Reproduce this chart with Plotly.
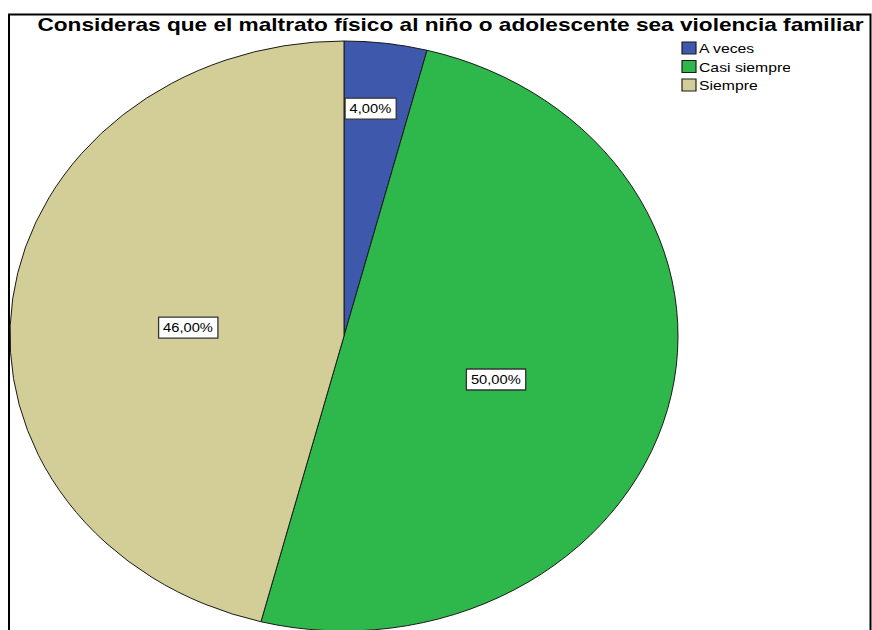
import json
import plotly.graph_objects as go

categories = ["A veces", "Casi siempre", "Siempre"]
percent_values = [4.0, 50.0, 46.0]
slice_colors = ["#3E58AC", "#2EB84B", "#D3CE98"]
title_text = "Consideras que el maltrato físico al niño o adolescente sea violencia familiar"

W, H = 872, 640   # drawn a little taller than the 630px window so the pie runs past the bottom edge
FONT = "Liberation Sans, Arial, sans-serif"

fig = go.Figure(
    go.Pie(
        labels=categories,
        values=percent_values,
        sort=False,
        direction="clockwise",
        rotation=0,
        marker=dict(colors=slice_colors, line=dict(color="#1a1a1a", width=1)),
        texttemplate="%{percent:.2%}",
        textposition="inside",
        insidetextorientation="horizontal",
        textfont=dict(family=FONT, size=13, color="#000000"),
        hoverinfo="label+percent",
        domain=dict(x=[44 / W, 644 / W], y=[1 - 631 / H, 1 - 41 / H]),
    )
)

fig.update_layout(
    width=W,
    height=H,
    margin=dict(l=0, r=0, t=0, b=0),
    paper_bgcolor="#FFFFFF",
    plot_bgcolor="#FFFFFF",
    separators=",.",
    showlegend=True,
    legend=dict(
        x=669 / W, y=1 - 33 / H, xanchor="left", yanchor="top",
        font=dict(family=FONT, size=13, color="#000000"),
        bgcolor="rgba(0,0,0,0)",
        tracegroupgap=0,
        itemwidth=30,
    ),
    annotations=[
        dict(
            text="<b>" + title_text + "</b>", xref="paper", yref="paper",
            x=37 / W, y=1 - 25 / H, xanchor="left", yanchor="middle",
            showarrow=False,
            font=dict(family=FONT, size=18, color="#000000"),
        )
    ],
    shapes=[
        dict(type="rect", xref="paper", yref="paper",
             x0=9 / W, x1=870.5 / W, y0=-0.05, y1=1 - 14.5 / H,
             line=dict(color="#000000", width=2), fillcolor="rgba(0,0,0,0)", layer="below")
    ],
)

post = r"""
document.documentElement.style.overflow = 'hidden';
document.body.style.margin = '0';
document.body.style.padding = '0';
document.body.style.overflow = 'hidden';
var gd = document.getElementById('{plot_id}');
var VALS = __VALS__;
function place(el, newLeft, s, dy) {
  var T = el.getAttribute('data-ot');
  if (T === null) { T = el.getAttribute('transform') || ''; el.setAttribute('data-ot', T); }
  if (T) el.setAttribute('transform', T); else el.removeAttribute('transform');
  var sv = el.ownerSVGElement;
  var sr = sv.getBoundingClientRect();
  var r = el.getBoundingClientRect();
  var L0 = r.left - sr.left;
  var pm = el.parentNode.getCTM();
  var offX = pm ? pm.e : 0, offY = pm ? pm.f : 0;
  var p0 = L0 - offX;
  el.setAttribute('transform', 'translate(' + (newLeft - offX) + ',' + (dy || 0) + ') scale(' + s + ',1) translate(' + (-p0) + ',0) ' + T);
  return {left: L0, width: r.width, top: r.top - sr.top, height: r.height, offX: offX, offY: offY};
}
function measure(el) {
  var T = el.getAttribute('data-ot');
  if (T !== null) { if (T) el.setAttribute('transform', T); else el.removeAttribute('transform'); }
  var sr = el.ownerSVGElement.getBoundingClientRect();
  var r = el.getBoundingClientRect();
  return {left: r.left - sr.left, width: r.width, top: r.top - sr.top, height: r.height};
}
function fixAll() {
  try {
    var cd = gd.calcdata && gd.calcdata[0] && gd.calcdata[0][0];
    if (!cd) return;
    var cx = cd.cx, cy = cd.cy, r = cd.r;
    var sx = 334 / r;
    var total = VALS.reduce(function(a, b) { return a + b; }, 0);
    var cum = 0;
    var slices = gd.querySelectorAll('.pielayer .slice');
    slices.forEach(function(s, i) {
      var p = s.querySelector('path.surface');
      if (p) {
        p.setAttribute('transform', 'translate(' + cx + ',0) scale(' + sx + ',1) translate(' + (-cx) + ',0)');
        p.style.vectorEffect = 'non-scaling-stroke';
      }
      var v = VALS[i];
      var mid = (cum + v / 2) / total * 2 * Math.PI;
      cum += v;
      var g = s.querySelector('g.slicetext');
      if (!g) return;
      var txt = g.querySelector('text');
      if (!txt) return;
      var small = (v / total < 0.1);
      var f = small ? 0.78 : 0.47;
      var Xt = cx + sx * f * r * Math.sin(mid) - (small ? 6 : 0);
      var Yt = cy - f * r * Math.cos(mid) + (small ? 1 : 9);
      var m = measure(txt);
      var ls = 1.13;
      var curCY = m.top + m.height / 2;
      var info = place(txt, Xt - ls * m.width / 2, ls, Yt - curCY);
      var ex = g.querySelector('rect.lblbox');
      if (ex) ex.remove();
      var pad = 4.5, bw = ls * m.width + 2 * pad, bh = 21;
      var rc = document.createElementNS('http://www.w3.org/2000/svg', 'rect');
      rc.setAttribute('class', 'lblbox');
      rc.setAttribute('x', Xt - bw / 2 - info.offX);
      rc.setAttribute('y', Yt - bh / 2 - info.offY);
      rc.setAttribute('width', bw);
      rc.setAttribute('height', bh);
      rc.setAttribute('fill', '#FFFFFF');
      rc.setAttribute('stroke', '#333333');
      rc.setAttribute('stroke-width', '1.3');
      g.insertBefore(rc, txt);
    });

    // legend rows
    var rows = gd.querySelectorAll('.legend .traces');
    var y0 = null;
    rows.forEach(function(row, i) {
      var t = row.getAttribute('data-ot');
      if (t === null) { t = row.getAttribute('transform') || ''; row.setAttribute('data-ot', t); }
      var mm = /translate\(\s*([-\d.e]+)[ ,]\s*([-\d.e]+)\s*\)/.exec(t);
      if (!mm) return;
      var x = parseFloat(mm[1]), y = parseFloat(mm[2]);
      if (y0 === null) y0 = y;
      row.setAttribute('transform', 'translate(' + x + ',' + (y0 + i * 18.5) + ')');
    });
    var ltexts = gd.querySelectorAll('.legend text.legendtext');
    var refW = null;
    ltexts.forEach(function(el) {
      var mm = measure(el);
      if (el.textContent === 'Casi siempre') refW = mm.width;
    });
    var lsc = refW ? 92 / refW : 1.2;
    ltexts.forEach(function(el) { place(el, 699, lsc, 0); });
    gd.querySelectorAll('.legend .legendpoints path').forEach(function(el) {
      var mm = measure(el);
      if (mm.width > 0) place(el, 682, 14 / mm.width, 0);
    });

    // title
    var tt = gd.querySelector('.annotation .annotation-text');
    if (tt) {
      var mt = measure(tt);
      if (mt.width > 0) place(tt, 37, 827 / mt.width, 0);
    }
  } catch (e) { console.log(e); }
}
fixAll();
gd.on('plotly_afterplot', fixAll);
""".replace("__VALS__", json.dumps(percent_values))

fig.write_html("out.html", post_script=post, config={"displayModeBar": False})
